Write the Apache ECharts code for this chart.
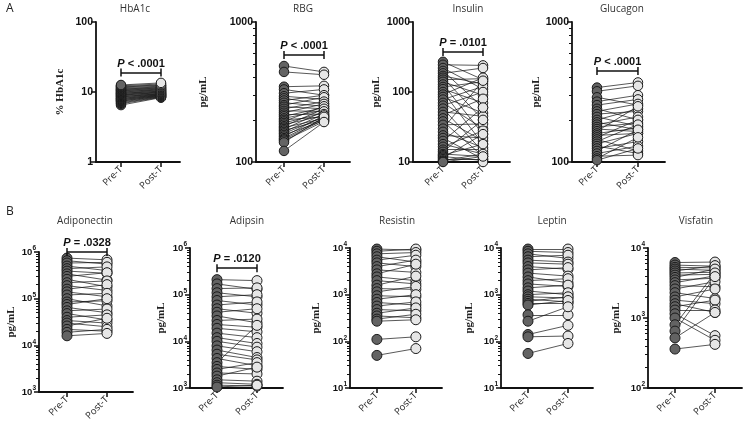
<!DOCTYPE html>
<html lang="en">
<head>
<meta charset="UTF-8">
<title>Pre-T vs Post-T</title>
<script src="https://cdn.jsdelivr.net/npm/echarts@6/dist/echarts.min.js"></script>
</head>
<body style="margin:0;background:#fff">
<div id="main" style="width:743px;height:429px;"></div>
<script>
// categories
var groups = ['Pre-T', 'Post-T'];

// paired values, pre and post treatment
var hba1cPre = [6.5, 6.8, 7.0, 7.2, 7.4, 7.5, 7.7, 7.8, 8.0, 8.1, 8.3, 8.5, 8.6, 8.8, 9.0, 9.1, 9.3, 9.5, 9.6, 9.8, 10.0, 10.2, 10.4, 10.6, 10.8, 11.0, 11.2, 11.5, 11.8, 12.0, 12.3, 12.6];
var hba1cPost = [8.3, 8.4, 8.5, 8.6, 8.7, 8.8, 8.9, 9.0, 9.1, 9.2, 9.3, 9.4, 9.5, 9.6, 9.8, 9.9, 10.0, 10.2, 10.3, 10.5, 10.7, 10.8, 11.0, 11.2, 11.4, 11.6, 11.8, 12.1, 12.4, 12.6, 13.0, 13.5];

var rbgPre = [485, 440, 345, 330, 310, 295, 285, 275, 265, 255, 248, 240, 232, 225, 218, 212, 205, 200, 195, 190, 185, 180, 176, 172, 168, 164, 160, 156, 152, 148, 145, 142, 138, 120];
var rbgPost = [440, 420, 350, 300, 330, 280, 260, 300, 250, 290, 240, 270, 230, 260, 220, 245, 235, 210, 250, 225, 215, 240, 205, 230, 200, 220, 210, 198, 215, 205, 200, 195, 210, 193];

var insulinPre = [270, 245, 220, 200, 185, 170, 160, 150, 140, 128, 118, 110, 100, 92, 85, 78, 70, 64, 58, 52, 47, 42, 38, 34, 30, 27, 24, 22, 20, 18, 16.5, 15, 14, 13, 12.5, 12, 11.5, 11, 10.5, 10.2, 10];
var insulinPost = [150, 240, 110, 60, 220, 130, 40, 155, 90, 25, 140, 70, 18, 160, 50, 120, 30, 100, 14, 45, 80, 20, 12, 35, 145, 16, 22, 11, 60, 13, 28, 15, 40, 12, 18, 10.5, 25, 11, 13, 10, 12];

var glucagonPre = [340, 320, 290, 270, 255, 240, 230, 220, 210, 200, 192, 185, 178, 172, 166, 160, 155, 150, 145, 140, 135, 130, 125, 120, 115, 110, 106, 103];
var glucagonPost = [370, 350, 255, 300, 280, 200, 260, 230, 180, 240, 170, 210, 190, 165, 250, 175, 160, 200, 120, 185, 160, 115, 140, 170, 130, 112, 150, 125];

var adiponectinPre = [7.4e5, 6.5e5, 5.8e5, 5e5, 4.4e5, 3.9e5, 3.4e5, 3e5, 2.6e5, 2.2e5, 1.9e5, 1.6e5, 1.4e5, 1.2e5, 1e5, 8.5e4, 7.5e4, 6.5e4, 5.5e4, 4.8e4, 4e4, 3.4e4, 3e4, 2.6e4, 2.2e4, 1.9e4, 1.6e4];
var adiponectinPost = [6.8e5, 5.5e5, 6e5, 4e5, 4.8e5, 3.5e5, 2.5e5, 3.6e5, 1.8e5, 2.4e5, 1.5e5, 2e5, 1.1e5, 1.3e5, 7e4, 9e4, 1e5, 5e4, 6e4, 3.5e4, 4.5e4, 3e4, 2.5e4, 3.8e4, 2e4, 2.2e4, 1.8e4];

var adipsinPre = [2.1e5, 1.7e5, 1.35e5, 1.1e5, 9e4, 7.5e4, 6e4, 5e4, 4.2e4, 3.5e4, 2.8e4, 2.3e4, 1.9e4, 1.5e4, 1.2e4, 1e4, 8e3, 6.5e3, 5.3e3, 4.3e3, 3.5e3, 2.9e3, 2.5e3, 2.1e3, 1.8e3, 1.5e3, 1.3e3, 1.15e3, 1.05e3];
var adipsinPost = [2e5, 1.3e5, 1.4e5, 9e4, 1e5, 6e4, 7e4, 4e4, 5e4, 2.5e4, 3e4, 2e4, 1.6e4, 1.2e4, 9e3, 7.5e3, 6e3, 4.5e3, 4e3, 3e3, 2.2e4, 2.5e3, 3.5e3, 2e3, 2.8e3, 1.4e3, 1.2e3, 1.1e3, 1.15e3];

var resistinPre = [9.5e3, 8.5e3, 7.5e3, 6.5e3, 5.5e3, 4.8e3, 4e3, 3.4e3, 2.8e3, 2.4e3, 2e3, 1.6e3, 1.35e3, 1.15e3, 950, 800, 680, 570, 480, 400, 350, 300, 270, 110, 50];
var resistinPost = [9e3, 9.5e3, 8e3, 5e3, 7e3, 4e3, 5.5e3, 3e3, 4.5e3, 2e3, 1.7e3, 2.5e3, 1.3e3, 1.5e3, 900, 1e3, 600, 700, 450, 520, 320, 380, 290, 125, 70];

var leptinPre = [9.5e3, 8.5e3, 7.5e3, 6.5e3, 5.5e3, 4.8e3, 4e3, 3.4e3, 2.9e3, 2.4e3, 2e3, 1.7e3, 1.4e3, 1.2e3, 1e3, 900, 800, 720, 650, 600, 370, 270, 140, 125, 55];
var leptinPost = [9.5e3, 8e3, 6e3, 7e3, 5e3, 4.5e3, 3.5e3, 3.8e3, 2.5e3, 1.8e3, 2.2e3, 1.5e3, 1.6e3, 1e3, 1.1e3, 850, 700, 900, 650, 750, 370, 550, 220, 130, 90];

var visfatinPre = [6.2e3, 5.7e3, 5.3e3, 5e3, 4.7e3, 4.4e3, 4.1e3, 3.8e3, 3.5e3, 3.2e3, 2.9e3, 2.6e3, 2.3e3, 2e3, 1.8e3, 1.6e3, 1.45e3, 1.3e3, 1.15e3, 1e3, 800, 650, 520, 360];
var visfatinPost = [6.3e3, 5.5e3, 5.2e3, 4.8e3, 5.6e3, 4.5e3, 4.2e3, 5e3, 3.7e3, 4e3, 2.8e3, 3.3e3, 1.9e3, 2.6e3, 1.6e3, 1.2e3, 1.8e3, 1.3e3, 560, 480, 4.4e3, 3.9e3, 1.2e3, 420];

// p values shown above the brackets
var pLabels = ['< .0001', '< .0001', '= .0101', '< .0001', '= .0328', '= .0120'];

// layout of the 9 panels (pixels)
var panels = [
    {title: 'HbA1c', pre: hba1cPre, post: hba1cPost, yMin: 1, yMax: 100, unit: '% HbA1c', left: 96, top: 22, w: 84, x0: -0.625, x1: 1.475, gap: 30, tx: 135, ty: 4, p: 0, pAt: 19, minor: false, sup: false},
    {title: 'RBG', pre: rbgPre, post: rbgPost, yMin: 100, yMax: 1000, unit: 'pg/mL', left: 256, top: 22, w: 94, x0: -0.7, x1: 1.65, gap: 47, tx: 303, ty: 4, p: 1, pAt: 580, minor: true, sup: false},
    {title: 'Insulin', pre: insulinPre, post: insulinPost, yMin: 10, yMax: 1000, unit: 'pg/mL', left: 413, top: 22, w: 97, x0: -0.75, x1: 1.675, gap: 31, tx: 468, ty: 4, p: 2, pAt: 372, minor: false, sup: false},
    {title: 'Glucagon', pre: glucagonPre, post: glucagonPost, yMin: 100, yMax: 1000, unit: 'pg/mL', left: 572, top: 22, w: 93, x0: -0.61, x1: 1.66, gap: 26, tx: 622, ty: 4, p: 3, pAt: 447, minor: true, sup: false},
    {title: 'Adiponectin', pre: adiponectinPre, post: adiponectinPost, yMin: 1e3, yMax: 1e6, unit: 'pg/mL', left: 39, top: 252, w: 94, x0: -0.7, x1: 1.65, gap: 22, tx: 85, ty: 216, p: 4, pAt: 1e6, minor: true, sup: true},
    {title: 'Adipsin', pre: adipsinPre, post: adipsinPost, yMin: 1e3, yMax: 1e6, unit: 'pg/mL', left: 190, top: 248, w: 93, x0: -0.675, x1: 1.65, gap: 23, tx: 247, ty: 216, p: 5, pAt: 3.7e5, minor: true, sup: true},
    {title: 'Resistin', pre: resistinPre, post: resistinPost, yMin: 10, yMax: 1e4, unit: 'pg/mL', left: 350, top: 248, w: 92, x0: -0.69, x1: 1.67, gap: 28, tx: 397, ty: 216, p: -1, minor: true, sup: true},
    {title: 'Leptin', pre: leptinPre, post: leptinPost, yMin: 10, yMax: 1e4, unit: 'pg/mL', left: 501, top: 248, w: 92, x0: -0.675, x1: 1.625, gap: 26, tx: 552, ty: 216, p: -1, minor: true, sup: true},
    {title: 'Visfatin', pre: visfatinPre, post: visfatinPost, yMin: 100, yMax: 1e4, unit: 'pg/mL', left: 648, top: 248, w: 94, x0: -0.675, x1: 1.675, gap: 26, tx: 696, ty: 216, p: -1, minor: true, sup: true}
];

function decades(min, max) {
    var out = [];
    for (var d = min; d <= max * 1.0001; d *= 10) out.push(d);
    return out;
}
function minors(min, max) {
    var out = [];
    for (var d = min; d < max * 0.999; d *= 10) {
        for (var k = 2; k <= 9; k++) out.push(k * d);
    }
    return out;
}

var axisColor = '#111';
var grids = [], xAxes = [], yAxes = [], series = [];
var titles = [
    {text: 'A', left: 6, top: 3, padding: 0, textStyle: {fontSize: 12, fontWeight: 'normal', color: '#222', fontFamily: 'Open Sans'}},
    {text: 'B', left: 6, top: 206, padding: 0, textStyle: {fontSize: 12, fontWeight: 'normal', color: '#222', fontFamily: 'Open Sans'}}
];

panels.forEach(function (pn, i) {
    var dot = pn.sup ? 10 : 9.5;
    grids.push({left: pn.left, top: pn.top, width: pn.w, height: 140});
    titles.push({
        text: pn.title, left: pn.tx, top: pn.ty, textAlign: 'center', padding: 0,
        textStyle: {fontSize: 10, fontWeight: 'normal', color: '#333', fontFamily: 'Open Sans'}
    });
    xAxes.push({
        type: 'value', gridIndex: i, min: pn.x0, max: pn.x1,
        axisLine: {show: true, onZero: false, lineStyle: {color: axisColor, width: 1.8}},
        axisTick: {show: true, customValues: [0, 1], length: 5, lineStyle: {color: axisColor, width: 1.5}},
        axisLabel: {
            customValues: [0, 1], rotate: 45, margin: 6, fontSize: 9.5, color: '#222', fontFamily: 'Open Sans',
            formatter: function (v) { return groups[Math.round(v)]; }
        },
        splitLine: {show: false}
    });
    var majors = decades(pn.yMin, pn.yMax);
    var mainIdx = yAxes.length;
    yAxes.push({
        type: 'log', logBase: 10, gridIndex: i, min: pn.yMin, max: pn.yMax,
        name: pn.unit, nameLocation: 'middle', nameGap: pn.gap,
        nameTextStyle: {fontFamily: 'Liberation Serif', fontWeight: 'bold', fontSize: 11, color: '#222'},
        axisLine: {show: true, onZero: false, lineStyle: {color: axisColor, width: 1.8}},
        axisTick: {show: true, customValues: majors, length: 5, lineStyle: {color: axisColor, width: 1.5}},
        axisLabel: {
            customValues: majors, margin: 3, color: '#111', fontFamily: 'Liberation Sans',
            fontWeight: 'bold', fontSize: 10.5,
            formatter: pn.sup ? function (v) {
                return '{b|10}{s|' + Math.round(Math.log10(v)) + '}';
            } : function (v) { return String(Math.round(v)); },
            rich: {
                b: {fontSize: 9.5, fontWeight: 'bold', fontFamily: 'Liberation Sans', color: '#111'},
                s: {fontSize: 6.5, fontWeight: 'bold', fontFamily: 'Liberation Sans', color: '#111', padding: [0, 0, 7, 0]}
            }
        },
        splitLine: {show: false}
    });
    if (pn.minor) {
        yAxes.push({
            type: 'log', logBase: 10, gridIndex: i, min: pn.yMin, max: pn.yMax, position: 'left',
            axisLine: {show: false, onZero: false},
            axisTick: {show: true, customValues: minors(pn.yMin, pn.yMax), length: 3, lineStyle: {color: axisColor, width: 1}},
            axisLabel: {show: false},
            splitLine: {show: false}
        });
    }

    series.push({
        type: 'lines', coordinateSystem: 'cartesian2d', xAxisIndex: i, yAxisIndex: mainIdx,
        lineStyle: {color: '#111', width: 0.7, opacity: 1},
        data: pn.pre.map(function (v, k) { return {coords: [[0, v], [1, pn.post[k]]]}; })
    });
    var preSeries = {
        type: 'scatter', xAxisIndex: i, yAxisIndex: mainIdx, z: 3,
        symbolSize: dot,
        itemStyle: {color: '#636363', borderColor: '#1a1a1a', borderWidth: 1, opacity: 1},
        data: pn.pre.map(function (v) { return [0, v]; })
    };
    if (pn.p >= 0) {
        preSeries.markLine = {
            silent: true, animation: false,
            symbol: ['rect', 'rect'], symbolSize: [8, 1.5],
            lineStyle: {color: '#111', width: 1.5, type: 'solid'},
            label: {
                show: true, position: 'insideMiddleTop', distance: 3,
                formatter: '{i|P} {t|' + pLabels[pn.p] + '}',
                rich: {
                    i: {fontStyle: 'italic', fontWeight: 'bold', fontSize: 11, fontFamily: 'Liberation Sans', color: '#111'},
                    t: {fontWeight: 'bold', fontSize: 11, fontFamily: 'Liberation Sans', color: '#111'}
                }
            },
            data: [[{coord: [0, pn.pAt]}, {coord: [1, pn.pAt]}]]
        };
    }
    series.push(preSeries);
    series.push({
        type: 'scatter', xAxisIndex: i, yAxisIndex: mainIdx, z: 3,
        symbolSize: dot,
        itemStyle: {color: '#e6e6e6', borderColor: '#1a1a1a', borderWidth: 1, opacity: 1},
        data: pn.post.map(function (v) { return [1, v]; })
    });
});

var myChart = echarts.init(document.getElementById('main'));
myChart.setOption({
    animation: false,
    title: titles,
    grid: grids,
    xAxis: xAxes,
    yAxis: yAxes,
    series: series
});
</script>
</body>
</html>
